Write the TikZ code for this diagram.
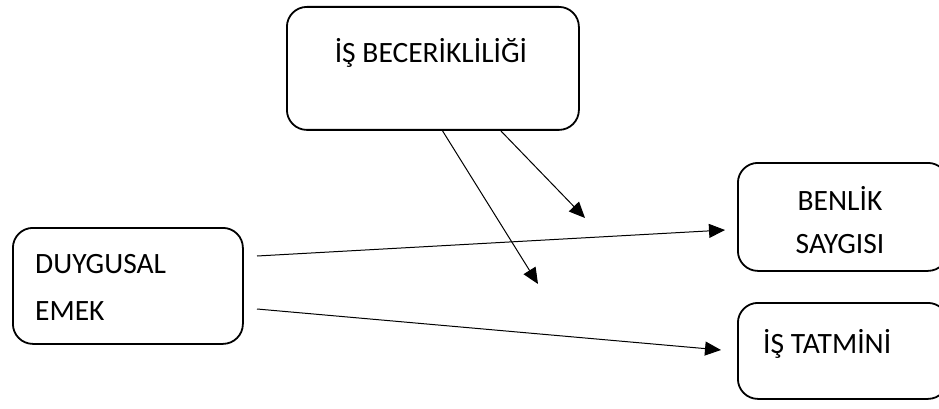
\documentclass[tikz,border=0pt]{standalone}
\usepackage{fontspec}
\setmainfont{Carlito}
\usetikzlibrary{arrows.meta}
\begin{document}
\begin{tikzpicture}[x=1pt,y=-1pt,
  box/.style={draw, line width=1.8pt, rounded corners=20pt, anchor=north west, inner sep=0pt},
  lbl/.style={font=\fontsize{29.5}{35}\selectfont, inner sep=0pt, anchor=base},
  lbll/.style={lbl, anchor=base west},
  conn/.style={line width=1pt, -{Triangle[length=16pt,width=14pt]}}]
\useasboundingbox (0,0) rectangle (939,409);
% boxes
\node[box, minimum width=292pt, minimum height=123pt] (top) at (286,6) {};
\node[box, minimum width=230pt, minimum height=116pt] (left) at (12,227) {};
\node[box, minimum width=210pt, minimum height=108pt] (benlik) at (737,162) {};
\node[box, minimum width=210pt, minimum height=96pt] (tatmin) at (737,302) {};
% texts
\node[lbl] (t1) at (431,63) {İŞ BECERİKLİLİĞİ};
\node[lbll] (t2) at (35,273) {DUYGUSAL};
\node[lbll] (t3) at (35,320) {EMEK};
\node[lbl] (t4) at (840,210) {BENLİK};
\node[lbl] (t5) at (840,253) {SAYGISI};
\node[lbll] (t6) at (763,353) {İŞ TATMİNİ};
% connector ends
\coordinate (a1s) at (257,256);
\coordinate (a1e) at (725,230);
\coordinate (a2s) at (257,309);
\coordinate (a2e) at (721,350);
\coordinate (a3s) at (442,130);
\coordinate (a3e) at (538,284);
\coordinate (a4s) at (500,130);
\coordinate (a4e) at (585,218);
\draw[conn] (a1s) -- (a1e);
\draw[conn] (a2s) -- (a2e);
\draw[conn] (a3s) -- (a3e);
\draw[conn] (a4s) -- (a4e);
\end{tikzpicture}
\end{document}
